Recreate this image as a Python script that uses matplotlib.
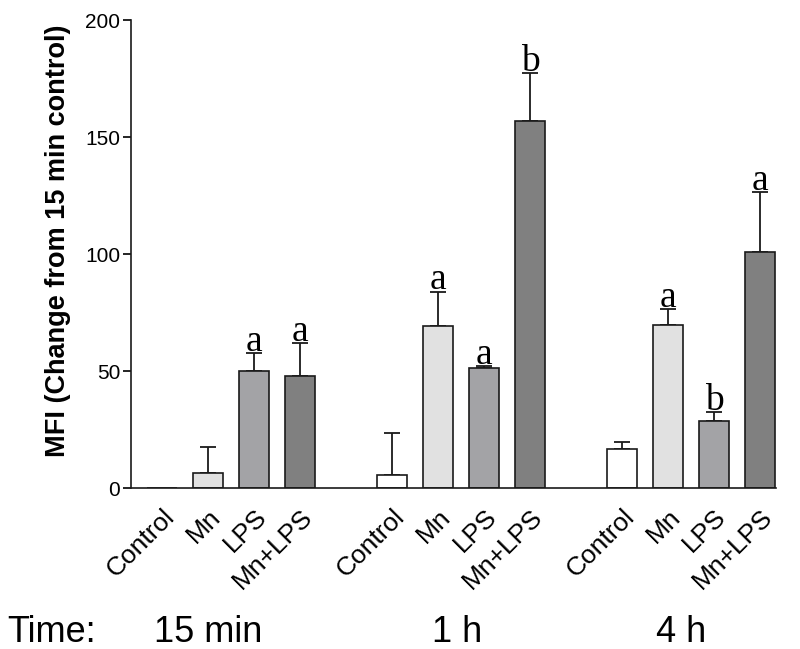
import numpy as np
import matplotlib
matplotlib.use("Agg")
from matplotlib import pyplot as plt

# data
treatments = ["Control", "Mn", "LPS", "Mn+LPS"]
times = ["15 min", "1 h", "4 h"]
mfi_15min = [0.0, 6.4, 50.0, 47.9]
mfi_1h = [5.6, 69.2, 51.2, 156.8]
mfi_4h = [16.7, 69.7, 28.6, 100.9]
sem_15min = [0.0, 11.1, 7.7, 14.1]
sem_1h = [17.9, 14.8, 1.1, 20.6]
sem_4h = [3.0, 6.8, 3.9, 25.6]
sig_15min = ["", "", "a", "a"]
sig_1h = ["", "a", "a", "b"]
sig_4h = ["", "a", "b", "a"]

colors = ["#ffffff", "#e1e1e1", "#a3a3a6", "#808080"]

plt.rcParams['font.family'] = ['Liberation Sans', 'DejaVu Sans']

fig = plt.figure(figsize=(8, 6.49), dpi=100)
ax = fig.add_axes([0.164, 0.248, 0.806, 0.721])

means = [mfi_15min, mfi_1h, mfi_4h]
sems = [sem_15min, sem_1h, sem_4h]
sigs = [sig_15min, sig_1h, sig_4h]

xpos = []
xlab = []
for g in range(3):
    x = np.arange(4) + 5 * g
    ax.bar(x, means[g], width=0.65, color=colors, edgecolor="#1a1a1a",
           linewidth=1.2, zorder=2)
    err = np.array(sems[g])
    show = err > 0
    ax.errorbar(x[show], np.array(means[g])[show],
                yerr=[np.zeros(show.sum()), err[show]], fmt="none",
                ecolor="#1a1a1a", elinewidth=1.3, capsize=5.8, capthick=1.3,
                zorder=1)
    for xi, m, e, s in zip(x, means[g], sems[g], sigs[g]):
        if s:
            ax.annotate(s, (xi, m + e), xytext=(0, 1.5), textcoords="offset points",
                        ha="center", va="baseline", fontsize=27,
                        family="Liberation Serif")
    xpos += list(x)
    xlab += treatments

ax.set_xlim(-0.674, 13.35)
ax.set_ylim(0, 200)
ax.set_yticks([0, 50, 100, 150, 200])
ax.tick_params(axis="y", labelsize=15, length=6, width=1.2, direction="out", pad=2)
ax.set_xticks(xpos)
ax.set_xticklabels(xlab, rotation=45, ha="right", va="top",
                   rotation_mode="anchor", fontsize=19)
ax.tick_params(axis="x", length=0, pad=12)
for sp in ["top", "right"]:
    ax.spines[sp].set_visible(False)
for sp in ["left", "bottom"]:
    ax.spines[sp].set_linewidth(1.2)
    ax.spines[sp].set_color("#1a1a1a")
ax.set_ylabel("MFI (Change from 15 min control)", fontsize=19.5,
              fontweight="bold", labelpad=8)
ax.yaxis.set_label_coords(-0.093, 0.528)

# group labels under the tick labels
fig.text(0.009, 0.011, "Time:", fontsize=26, ha="left", va="baseline")
for t, xc in zip(times, [208, 457, 681]):
    fig.text(xc / 800, 0.011, t, fontsize=26, ha="center", va="baseline")

fig.savefig("out.png", dpi=100)
